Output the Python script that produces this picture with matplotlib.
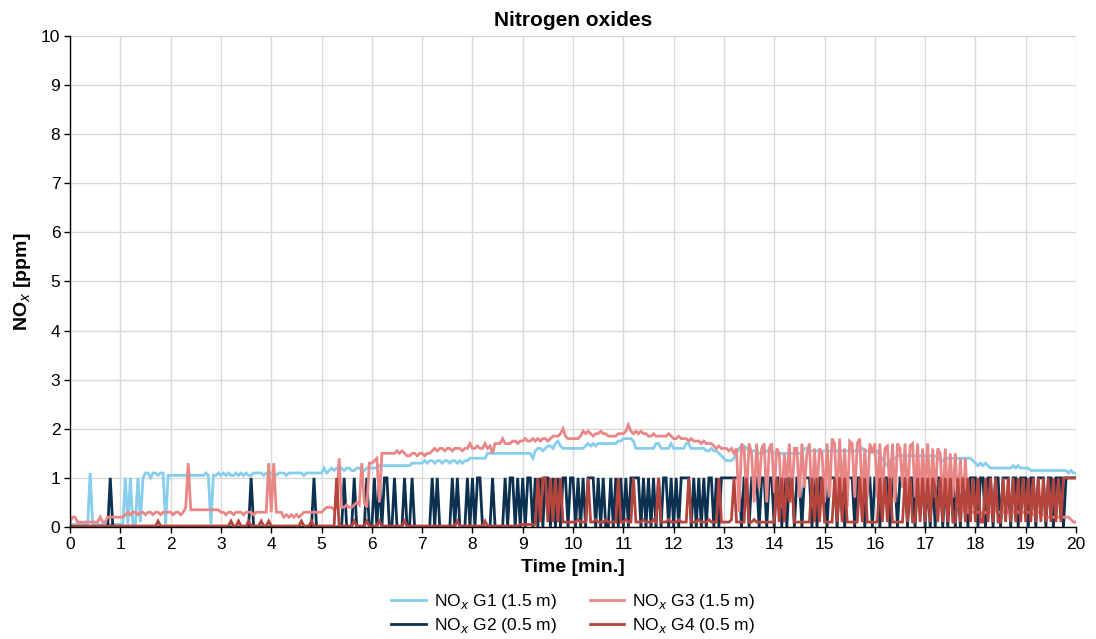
import matplotlib
matplotlib.use("Agg")
import matplotlib.pyplot as plt
import numpy as np

plt.rcParams['font.family'] = ['Liberation Sans', 'DejaVu Sans']

# sample step 0.05 min, 401 samples from 0 to 20 min
time_step = 0.05

g1_15m = [
    0.05,0.05,0.05,0.05,0.05,0.05,0.05,0.05,1.1,0.05, 0.05,0.05,0.05,0.05,0.05,0.05,0.05,0.05,0.05,0.05,
    0.05,0.05,1.0,0.05,1.0,0.05,0.05,1.0,0.1,1.0, 1.1,1.1,1.0,1.1,1.1,1.05,1.1,1.1,0.05,1.05,
    1.05,1.05,1.05,1.05,1.05,1.05,1.05,1.1,1.05,1.05, 1.05,1.05,1.05,1.05,1.1,1.05,0.05,1.05,1.05,1.1,
    1.05,1.1,1.05,1.1,1.05,1.05,1.1,1.05,1.1,1.05, 1.1,1.05,1.05,1.1,1.1,1.1,1.1,1.05,1.1,1.1,
    1.1,1.1,1.05,1.1,1.1,1.1,1.05,1.1,1.1,1.1, 1.1,1.1,1.1,1.05,1.1,1.1,1.1,1.1,1.1,1.1,
    1.1,1.2,1.1,1.15,1.2,1.15,1.2,1.15,1.2,1.15, 1.2,1.2,1.15,1.15,1.2,1.2,1.15,1.15,1.2,1.2,
    1.2,1.2,1.2,1.25,1.25,1.25,1.25,1.25,1.25,1.25, 1.25,1.25,1.25,1.25,1.25,1.25,1.3,1.3,1.3,1.3,
    1.3,1.35,1.3,1.35,1.35,1.3,1.35,1.35,1.3,1.35, 1.35,1.3,1.35,1.35,1.3,1.35,1.3,1.35,1.35,1.4,
    1.4,1.4,1.4,1.4,1.4,1.4,1.5,1.5,1.5,1.5, 1.5,1.5,1.5,1.5,1.5,1.5,1.5,1.5,1.5,1.5,
    1.5,1.5,1.5,1.5,1.4,1.55,1.6,1.6,1.55,1.6, 1.65,1.65,1.6,1.7,1.75,1.65,1.6,1.6,1.6,1.6,
    1.6,1.6,1.6,1.6,1.6,1.65,1.7,1.65,1.7,1.65, 1.7,1.7,1.7,1.7,1.7,1.7,1.7,1.7,1.75,1.75,
    1.8,1.8,1.8,1.8,1.75,1.6,1.6,1.6,1.6,1.6, 1.6,1.6,1.6,1.7,1.7,1.6,1.6,1.6,1.6,1.7,
    1.6,1.6,1.6,1.6,1.6,1.7,1.7,1.6,1.6,1.6, 1.6,1.6,1.6,1.55,1.55,1.6,1.55,1.55,1.5,1.45,
    1.4,1.35,1.35,1.35,1.4,1.5,1.6,1.65,1.65,1.6, 1.55,1.55,1.55,1.55,1.5,1.5,1.5,1.55,1.55,1.55,
    1.5,1.5,1.5,1.5,1.5,1.5,1.5,1.5,1.5,1.5, 1.5,1.5,1.6,1.6,1.55,1.55,1.55,1.55,1.55,1.55,
    1.55,1.55,1.55,1.55,1.55,1.55,1.55,1.55,1.55,1.55, 1.55,1.55,1.55,1.55,1.55,1.6,1.55,1.55,1.55,1.55,
    1.55,1.55,1.45,1.4,1.3,1.25,1.35,1.4,1.4,1.45, 1.45,1.45,1.45,1.45,1.45,1.45,1.45,1.45,1.45,1.45,
    1.45,1.45,1.45,1.45,1.45,1.4,1.35,1.35,1.4,1.4, 1.4,1.4,1.4,1.4,1.4,1.4,1.4,1.4,1.4,1.35,
    1.3,1.25,1.3,1.25,1.3,1.25,1.2,1.2,1.2,1.2, 1.2,1.2,1.2,1.2,1.2,1.25,1.2,1.25,1.2,1.2,
    1.2,1.2,1.15,1.15,1.15,1.15,1.15,1.15,1.15,1.15, 1.15,1.15,1.15,1.15,1.15,1.15,1.15,1.1,1.15,1.1,
    1.1,
]

g2_05m = [
    0,0,0,0,0,0,0,0,0,0, 0,0,0,0,0,0,1,0,0,0,
    0,0,0,0,0,0,0,0,0,0, 0,0,0,0,0,0,0,0,0,0,
    0,0,0,0,0,0,0,0,0,0, 0,0,0,0,0,0,0,0,0,0,
    0,0,0,0,0,0,0,0,0,0, 0,0,1,0,0,0,0,0,0,0,
    0,0,0,0,0,0,0,0,0,0, 0,0,0,0,0,0,0,1,0,0,
    0,0,0,0,0,0,0,0,0,1, 0,0,0,1,0,0,0,0,1,0,
    0,1,0,1,0,1,1,0,0,1, 0,0,0,1,0,0,1,0,0,0,
    0,0,0,0,1,0,1,0,0,0, 0,0,1,0,1,0,0,0,1,0,
    1,0,1,1,0,0,0,0,1,0, 0,0,0,1,0,1,1,0,1,0,
    1,0,1,1,0,1,0,1,0,1, 1,0,1,0,1,0,1,1,0,1,
    1,0,1,0,1,0,1,1,1,0, 1,0,1,0,0,1,0,1,0,1,
    0,1,0,1,1,1,1,0,1,0, 1,0,1,0,1,0,1,1,0,1,
    0,1,0,1,1,1,1,0,1,0, 1,0,1,0,1,1,0,1,0,1,
    1,1,1,1,1,1,1,0,1,1, 0,1,1,1,0,1,1,0,1,1,
    0,1,1,0,1,0,1,1,0,1, 1,0,1,1,1,0,1,0,1,1,
    1,0,1,1,1,0,1,1,0,1, 1,1,0,1,1,1,0,1,1,0,
    1,1,0,1,1,1,0,1,1,0, 1,1,1,0,1,1,0,1,1,1,
    0,1,0,1,0,1,1,0,1,0, 1,1,0,1,0,1,1,0,1,1,
    1,0,1,1,0,1,1,0,1,1, 0,1,1,1,0,1,1,0,1,1,
    1,0,1,1,0,1,1,1,0,1, 1,0,1,1,1,0,1,1,1,1,
    1,
]

g3_15m = [
    0.1,0.2,0.2,0.1,0.1,0.1,0.1,0.1,0.1,0.1, 0.1,0.1,0.2,0.1,0.1,0.2,0.2,0.2,0.2,0.2,
    0.2,0.2,0.25,0.3,0.25,0.3,0.3,0.25,0.3,0.3, 0.25,0.3,0.3,0.25,0.3,0.3,0.25,0.3,0.3,0.3,
    0.3,0.25,0.3,0.3,0.25,0.3,0.4,1.3,0.35,0.35, 0.35,0.35,0.35,0.35,0.35,0.35,0.35,0.35,0.35,0.35,
    0.3,0.3,0.25,0.3,0.3,0.25,0.3,0.3,0.3,0.25, 0.3,0.3,0.3,0.25,0.3,0.3,0.3,0.3,0.3,1.3,
    0.3,1.3,0.3,0.3,0.3,0.2,0.25,0.2,0.25,0.2, 0.25,0.2,0.25,0.3,0.3,0.3,0.3,0.3,0.3,0.3,
    0.3,0.35,0.4,0.4,0.4,0.35,0.4,1.4,0.4,0.4, 0.45,0.4,0.4,0.45,0.5,0.45,1.3,0.5,0.4,1.3,
    1.3,1.35,1.4,0.5,1.5,1.5,1.5,1.5,1.5,1.5, 1.55,1.5,1.55,1.5,1.45,1.45,1.5,1.5,1.45,1.5,
    1.5,1.45,1.5,1.5,1.55,1.6,1.55,1.6,1.6,1.55, 1.6,1.6,1.55,1.6,1.6,1.6,1.55,1.6,1.6,1.7,
    1.6,1.6,1.65,1.6,1.6,1.7,1.6,1.65,1.5,1.7, 1.7,1.7,1.8,1.7,1.7,1.7,1.75,1.75,1.7,1.75,
    1.75,1.8,1.75,1.75,1.8,1.75,1.8,1.75,1.8,1.8, 1.75,1.8,1.85,1.85,1.85,1.9,2.0,1.85,1.8,1.8,
    1.8,1.8,1.8,1.85,1.95,1.9,1.95,1.9,1.85,1.9, 1.9,1.95,1.9,1.9,1.85,1.85,1.85,1.85,1.9,1.9,
    1.9,1.95,2.08,1.95,1.9,1.95,1.9,1.95,1.9,1.9, 1.85,1.85,1.9,1.85,1.85,1.85,1.85,1.85,1.9,1.85,
    1.8,1.8,1.85,1.8,1.8,1.8,1.75,1.8,1.75,1.75, 1.75,1.7,1.75,1.7,1.7,1.7,1.65,1.6,1.65,1.6,
    1.6,1.6,1.55,1.6,1.5,1.6,0.3,1.7,1.6,0.6, 1.7,1.5,0.5,1.7,0.8,1.6,1.7,0.5,1.6,1.7,
    0.7,1.6,1.5,0.4,1.5,0.9,1.7,0.5,1.6,1.6, 0.6,1.7,0.8,1.5,1.7,0.4,1.6,0.7,1.6,1.5,
    0.5,1.7,0.6,1.8,1.7,0.5,1.8,0.7,1.6,0.4, 1.75,1.7,0.6,1.7,1.8,0.5,1.6,0.6,1.7,1.5,
    1.7,0.6,1.7,0.5,1.6,1.65,0.7,1.7,0.5,1.7, 1.6,0.8,1.7,0.5,1.65,1.7,0.6,1.7,0.5,1.6,
    0.7,1.7,0.5,1.6,0.6,1.6,1.5,0.4,1.6,0.5, 1.5,0.6,1.5,0.4,1.4,0.3,1.4,0.3,0.3,0.3,
    0.3,0.3,0.3,0.25,0.3,0.3,0.3,0.3,0.35,0.3, 0.3,0.3,0.3,0.3,0.3,0.3,0.35,0.3,0.3,0.3,
    0.3,0.3,0.3,0.25,0.25,0.3,0.3,0.25,0.2,0.2, 0.2,0.2,0.2,0.2,0.2,0.2,0.2,0.2,0.15,0.1,
    0.1,
]

g4_05m = [
    0.02,0.02,0.02,0.02,0.02,0.02,0.02,0.02,0.02,0.02, 0.02,0.02,0.02,0.02,0.02,0.02,0.02,0.02,0.02,0.02,
    0.02,0.02,0.02,0.02,0.02,0.02,0.02,0.02,0.02,0.02, 0.02,0.02,0.02,0.02,0.02,0.12,0.02,0.02,0.02,0.02,
    0.02,0.02,0.02,0.02,0.02,0.02,0.02,0.02,0.02,0.02, 0.02,0.02,0.02,0.02,0.02,0.02,0.02,0.02,0.02,0.02,
    0.02,0.02,0.02,0.02,0.12,0.02,0.02,0.12,0.02,0.02, 0.02,0.12,0.02,0.02,0.02,0.02,0.12,0.02,0.02,0.12,
    0.02,0.02,0.02,0.02,0.02,0.02,0.02,0.02,0.02,0.02, 0.02,0.02,0.12,0.02,0.02,0.02,0.12,0.02,0.02,0.02,
    0.02,0.02,0.02,0.02,0.02,0.02,1.0,0.02,0.02,0.02, 0.02,0.02,0.02,0.12,0.02,0.02,0.02,0.02,0.12,0.02,
    0.02,0.02,0.02,0.12,0.02,0.02,0.02,0.02,0.02,0.02, 0.02,0.02,0.02,0.12,0.02,0.02,0.02,0.02,0.02,0.02,
    0.02,0.02,0.02,0.02,0.02,0.02,0.02,0.02,0.02,0.02, 0.02,0.02,0.02,0.02,0.12,0.02,0.02,0.02,0.02,0.02,
    0.02,0.02,0.02,0.02,0.02,0.12,0.02,0.02,0.02,0.02, 0.02,0.02,0.02,0.02,0.02,0.02,0.02,0.02,0.02,0.05,
    0.05,0.05,0.05,0.05,0.05,0.05,1.0,0.1,1.0,1.0, 0.1,1.0,0.1,1.0,0.1,1.0,0.1,0.1,0.1,0.1,
    0.1,0.1,0.15,0.1,0.1,0.1,1.0,0.1,0.1,0.15, 0.1,0.1,0.1,0.15,0.1,0.1,0.1,0.1,1.0,0.1,
    0.1,0.15,0.1,0.1,1.0,0.1,0.1,0.1,0.15,0.1, 0.1,0.1,0.15,0.1,1.0,0.1,0.1,0.1,0.15,0.1,
    0.1,0.1,0.15,0.1,0.1,0.1,1.0,0.1,0.1,0.1, 0.15,0.1,0.1,0.1,0.15,0.1,0.1,0.1,1.0,0.1,
    0.1,0.1,0.1,0.15,1.0,0.1,0.1,0.1,0.1,1.0, 0.1,0.1,0.15,0.1,0.1,0.1,0.1,0.1,0.1,0.1,
    0.1,1.0,0.1,1.0,0.1,1.0,0.5,1.0,0.1,0.1, 0.1,0.1,0.1,0.1,0.1,1.0,0.1,1.0,0.1,1.0,
    0.1,0.1,0.1,0.1,1.0,0.1,1.0,0.1,1.0,0.1, 0.1,0.1,0.1,0.1,1.0,0.1,1.0,0.1,0.1,0.1,
    0.1,0.1,1.0,0.1,1.0,0.1,1.0,0.1,0.1,0.1, 0.1,0.1,1.0,0.1,1.0,0.1,0.1,1.0,0.1,1.0,
    0.1,1.0,0.1,1.0,0.8,0.1,1.0,0.1,1.0,0.1, 1.0,0.1,0.1,1.0,0.1,1.0,0.1,1.0,0.1,1.0,
    0.1,1.0,0.1,0.1,1.0,0.1,1.0,0.1,1.0,0.1, 0.1,1.0,0.1,1.0,0.1,1.0,0.1,1.0,0.1,1.0,
    0.1,1.0,0.1,1.0,0.1,1.0,0.1,1.0,0.1,1.0, 0.1,1.0,0.1,1.0,0.1,1.0,1.0,1.0,1.0,1.0,
    1.0,
]

series_labels = [r"NO$_{x}$ G1 (1.5 m)", r"NO$_{x}$ G2 (0.5 m)",
                 r"NO$_{x}$ G3 (1.5 m)", r"NO$_{x}$ G4 (0.5 m)"]
series_colors = ["#86cdee", "#0c3150", "#e98686", "#b5453c"]

time = np.arange(len(g1_15m)) * time_step

fig = plt.figure(figsize=(10.96, 6.39), dpi=100)
ax = fig.add_axes([0.0639, 0.1753, 0.9179, 0.7684])

for vals, lab, col in zip([g1_15m, g2_05m, g3_15m, g4_05m], series_labels, series_colors):
    ax.plot(time, vals, color=col, lw=2.0, label=lab, solid_joinstyle='miter')

ax.set_xlim(0, 20)
ax.set_ylim(0, 10)
ax.set_xticks(range(0, 21))
ax.set_yticks(range(0, 11))
ax.grid(True, color="#d9d9d9", lw=1.0)
ax.set_axisbelow(True)
for s in ["top", "right"]:
    ax.spines[s].set_visible(False)
for s in ["left", "bottom"]:
    ax.spines[s].set_color("black")
    ax.spines[s].set_linewidth(1.0)
ax.tick_params(axis="both", labelsize=12.5, length=4, width=1, color="black", pad=3)

ax.set_title("Nitrogen oxides", fontsize=15, fontweight="bold", pad=7)
ax.set_xlabel("Time [min.]", fontsize=14, fontweight="bold", labelpad=5)
ax.set_ylabel(r"NO$_{x}$ [ppm]", fontsize=14, fontweight="bold", labelpad=6)

ax.legend(loc="upper center", bbox_to_anchor=(0.5, -0.1), ncol=2, frameon=False,
          fontsize=12.5, handlelength=2.0, columnspacing=1.9, handletextpad=0.45,
          labelspacing=0.3)

fig.savefig("out.png", dpi=100)
